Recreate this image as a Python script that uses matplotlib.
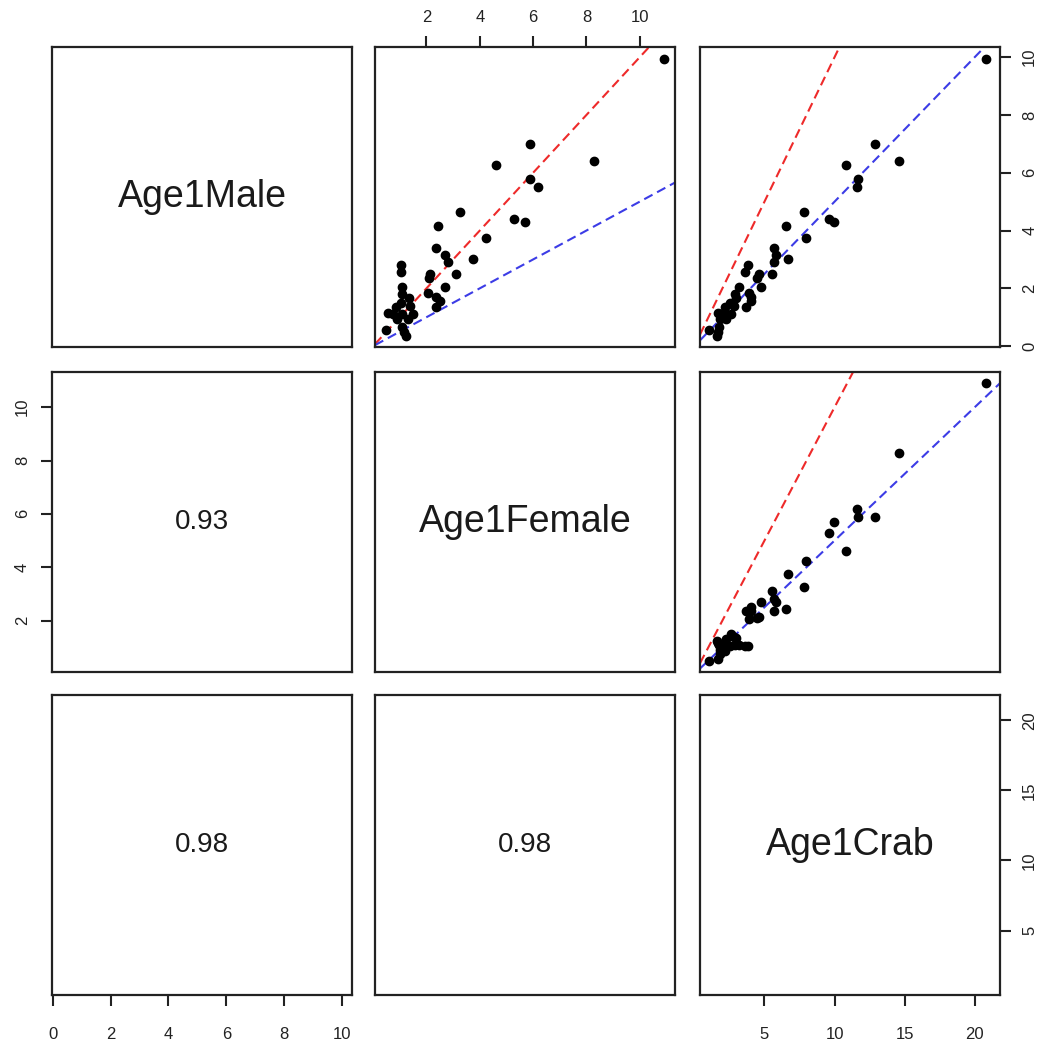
import matplotlib.pyplot as plt

plt.rcParams['font.family'] = ['Liberation Sans', 'DejaVu Sans']

# (female, male, crab) for each sample
female = [10.9, 5.9, 4.6, 8.3, 5.9, 6.2, 3.25, 5.3, 5.7, 2.45,
          4.25, 2.35, 2.7, 2.8, 3.75, 3.1, 2.15, 2.1, 1.05, 1.05,
          2.7, 2.05, 2.35, 2.5, 2.35, 1.1, 1.1, 1.35, 1.05, 1.4,
          0.85, 0.55, 0.75, 1.1, 1.5, 0.9, 0.5, 1.1, 1.25, 1.15, 1.3]
male = [9.95, 7.0, 6.25, 6.4, 5.8, 5.5, 4.65, 4.4, 4.3, 4.15,
        3.75, 3.4, 3.15, 2.9, 3.0, 2.5, 2.5, 2.35, 2.8, 2.55,
        2.05, 1.85, 1.7, 1.55, 1.35, 2.05, 1.8, 1.65, 1.5, 1.4,
        1.35, 1.15, 1.1, 1.1, 1.1, 0.95, 0.55, 0.65, 0.35, 0.5, 0.95]
crab = [20.8, 12.9, 10.85, 14.6, 11.7, 11.6, 7.85, 9.6, 9.95, 6.55,
        7.95, 5.7, 5.85, 5.65, 6.7, 5.55, 4.6, 4.45, 3.8, 3.6,
        4.75, 3.9, 4.05, 4.05, 3.7, 3.15, 2.9, 3.0, 2.55, 2.8,
        2.2, 1.7, 1.85, 2.2, 2.6, 1.85, 1.05, 1.75, 1.6, 1.65, 2.25]

names = ['Age1Male', 'Age1Female', 'Age1Crab']
columns = [male, female, crab]
# correlations shown in the lower panels: (row, col) -> value
corr = {(1, 0): 0.93, (2, 0): 0.98, (2, 1): 0.98}

lims = [(-0.03, 10.35), (0.07, 11.32), (0.4, 21.8)]
ticks = [[0, 2, 4, 6, 8, 10], [2, 4, 6, 8, 10], [5, 10, 15, 20]]

W, H = 1050, 1046
col_x = [52, 375, 700]
row_y = [47, 372, 695]
size = 300

fig = plt.figure(figsize=(W / 100, H / 100), dpi=100)

for r in range(3):
    for c in range(3):
        ax = fig.add_axes([col_x[c] / W, 1 - (row_y[r] + size) / H,
                           size / W, size / H])
        ax.set_xlim(lims[c])
        ax.set_ylim(lims[r])
        ax.set_xticks([])
        ax.set_yticks([])
        for s in ax.spines.values():
            s.set_linewidth(1.6)
            s.set_color('#222222')

        if r == c:
            ax.text(0.5, 0.5, names[r], transform=ax.transAxes,
                    ha='center', va='center', fontsize=27, color='#1a1a1a')
        elif r < c:
            ax.plot(columns[c], columns[r], 'o', color='black', ms=6,
                    mec='black', zorder=3)
            ax.axline((0, 0), slope=1, color='#ee2a2a', lw=1.5,
                      ls=(0, (4.5, 2.5)))
            ax.axline((0, 0), slope=0.5, color='#3c3ce6', lw=1.5,
                      ls=(0, (4.5, 2.5)))
        else:
            ax.text(0.5, 0.5, f'{corr[(r, c)]:.2f}', transform=ax.transAxes,
                    ha='center', va='center', fontsize=20, color='#1a1a1a')

        # pairs-style axes: alternate sides along the outer panels
        if r == 2 and c % 2 == 0:
            ax.set_xticks(ticks[c])
            ax.tick_params(axis='x', direction='out', length=8, width=1.5,
                           pad=15, labelsize=12, colors='#222222')
        if r == 0 and c % 2 == 1:
            ax.set_xticks(ticks[c])
            ax.xaxis.tick_top()
            ax.tick_params(axis='x', direction='out', length=8, width=1.5,
                           pad=8, labelsize=12, colors='#222222')
        if c == 2 and r % 2 == 0:
            ax.set_yticks(ticks[r])
            ax.yaxis.tick_right()
            ax.tick_params(axis='y', direction='out', length=8, width=1.5,
                           pad=8, labelsize=12, colors='#222222',
                           labelrotation=90)
            for lab in ax.get_yticklabels():
                lab.set_va('center')
        if c == 0 and r % 2 == 1:
            ax.set_yticks(ticks[r])
            ax.tick_params(axis='y', direction='out', length=8, width=1.5,
                           pad=8, labelsize=12, colors='#222222',
                           labelrotation=90)
            for lab in ax.get_yticklabels():
                lab.set_va('center')

fig.savefig('out.png', dpi=100, facecolor='white')
